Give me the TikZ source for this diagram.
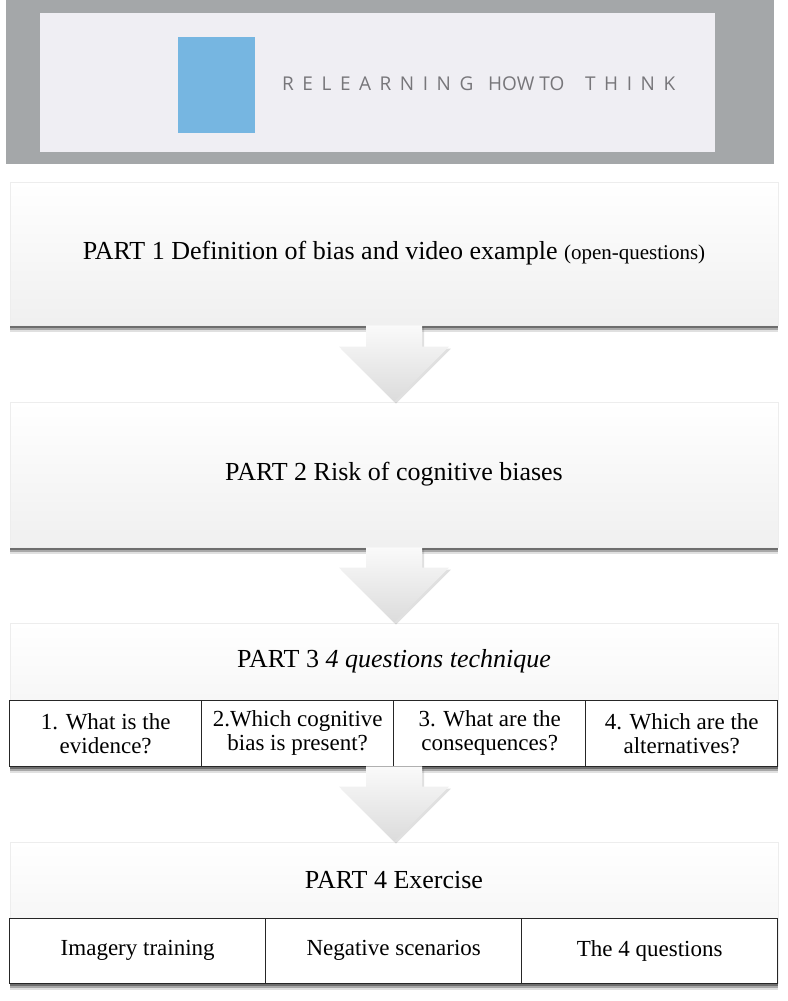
\documentclass[tikz,border=0pt]{standalone}
\usepackage{fontspec}
\setmainfont{Liberation Serif}
\newfontfamily\logospaced[LetterSpace=45]{Open Sans}
\newfontfamily\logoplain{Open Sans}
\usetikzlibrary{positioning,calc,shadows}

\definecolor{bandgray}{HTML}{A4A7A9}
\definecolor{bandinner}{HTML}{EFEEF3}
\definecolor{logoblue}{HTML}{76B6E1}
\definecolor{logotext}{HTML}{77767A}

\tikzset{
  panel/.style={minimum width=768pt, inner sep=0pt, draw=black!7, line width=0.6pt,
    top color=white, middle color=white, bottom color=black!6,
    drop shadow={shadow xshift=0pt, shadow yshift=-7pt, opacity=.12, fill=black},
    drop shadow={shadow xshift=0pt, shadow yshift=-5pt, opacity=.25, fill=black},
    drop shadow={shadow xshift=0pt, shadow yshift=-3pt, opacity=.35, fill=black}},
  partlabel/.style={font=\fontsize{26}{28}\selectfont},
  cell/.style={draw=black!85, line width=0.8pt, fill=white, inner sep=2pt, outer sep=0pt,
    align=center, font=\fontsize{23}{24}\selectfont},
  logoword/.style={inner sep=0pt, anchor=base west, text=logotext, font=\fontsize{19}{19}\selectfont},
  flowshade/.style={top color=black!2, bottom color=black!14,
    drop shadow={shadow xshift=2pt, shadow yshift=-2pt, opacity=.12, fill=black}},
}

% fat arrow from the bottom of one panel to the top of the next
\newcommand{\flowarrow}[2]{%
  \shade[flowshade] ($(#1.south)+(-28,0)$) -- ($(#2.north)+(-28,-55)$) -- ($(#2.north)+(-55,-55)$)
    -- (#2.north) -- ($(#2.north)+(55,-55)$) -- ($(#2.north)+(28,-55)$) -- ($(#1.south)+(28,0)$) -- cycle;}

\begin{document}
\begin{tikzpicture}[x=1pt, y=-1pt]
  \useasboundingbox (0,0) rectangle (787,1001);
  % banner
  \fill[bandgray] (6,0) rectangle (774,164);
  \fill[bandinner] (40,13) rectangle (715,152);
  \fill[logoblue] (178,37) rectangle (255,133);
  \node[logoword] (w1) at (282,90) {\logospaced RELEARNING};
  \node[logoword] (w2) at (488,90) {\logoplain HOW TO};
  \node[logoword] (w3) at (585,90) {\logospaced THINK};

  % parts 1 and 2
  \node[panel, partlabel, minimum height=143pt] (p1) at (394,253.5)
    {PART 1 Definition of bias and video example {\fontsize{21}{22}\selectfont(open-questions)}};
  \node[panel, partlabel, minimum height=145pt] (p2) at (394,474.5) {PART 2 Risk of cognitive biases};

  % part 3
  \node[panel, minimum height=143pt] (p3) at (394,694.5) {};
  \node[partlabel] (t3) at (394,661) {PART 3 \textit{4 questions technique}};
  \node[cell, minimum width=192pt, minimum height=66pt, anchor=south west] (q1) at (p3.south west)
    {1. What is the\\evidence?};
  \node[cell, minimum width=192pt, minimum height=66pt, right=0pt of q1] (q2)
    {2.Which cognitive\\bias is present?};
  \node[cell, minimum width=192pt, minimum height=66pt, right=0pt of q2] (q3)
    {3. What are the\\consequences?};
  \node[cell, minimum width=192pt, minimum height=66pt, right=0pt of q3] (q4)
    {4. Which are the\\alternatives?};

  % part 4
  \node[panel, minimum height=141pt] (p4) at (394,912.5) {};
  \node[partlabel] (t4) at (394,880) {PART 4 Exercise};
  \node[cell, minimum width=256pt, minimum height=65pt, anchor=south west] (e1) at (p4.south west)
    {Imagery training};
  \node[cell, minimum width=256pt, minimum height=65pt, right=0pt of e1] (e2) {Negative scenarios};
  \node[cell, minimum width=256pt, minimum height=65pt, right=0pt of e2] (e3) {The 4 questions};

  % arrows
  \flowarrow{p1}{p2}
  \flowarrow{p2}{p3}
  \flowarrow{p3}{p4}
\end{tikzpicture}
\end{document}
